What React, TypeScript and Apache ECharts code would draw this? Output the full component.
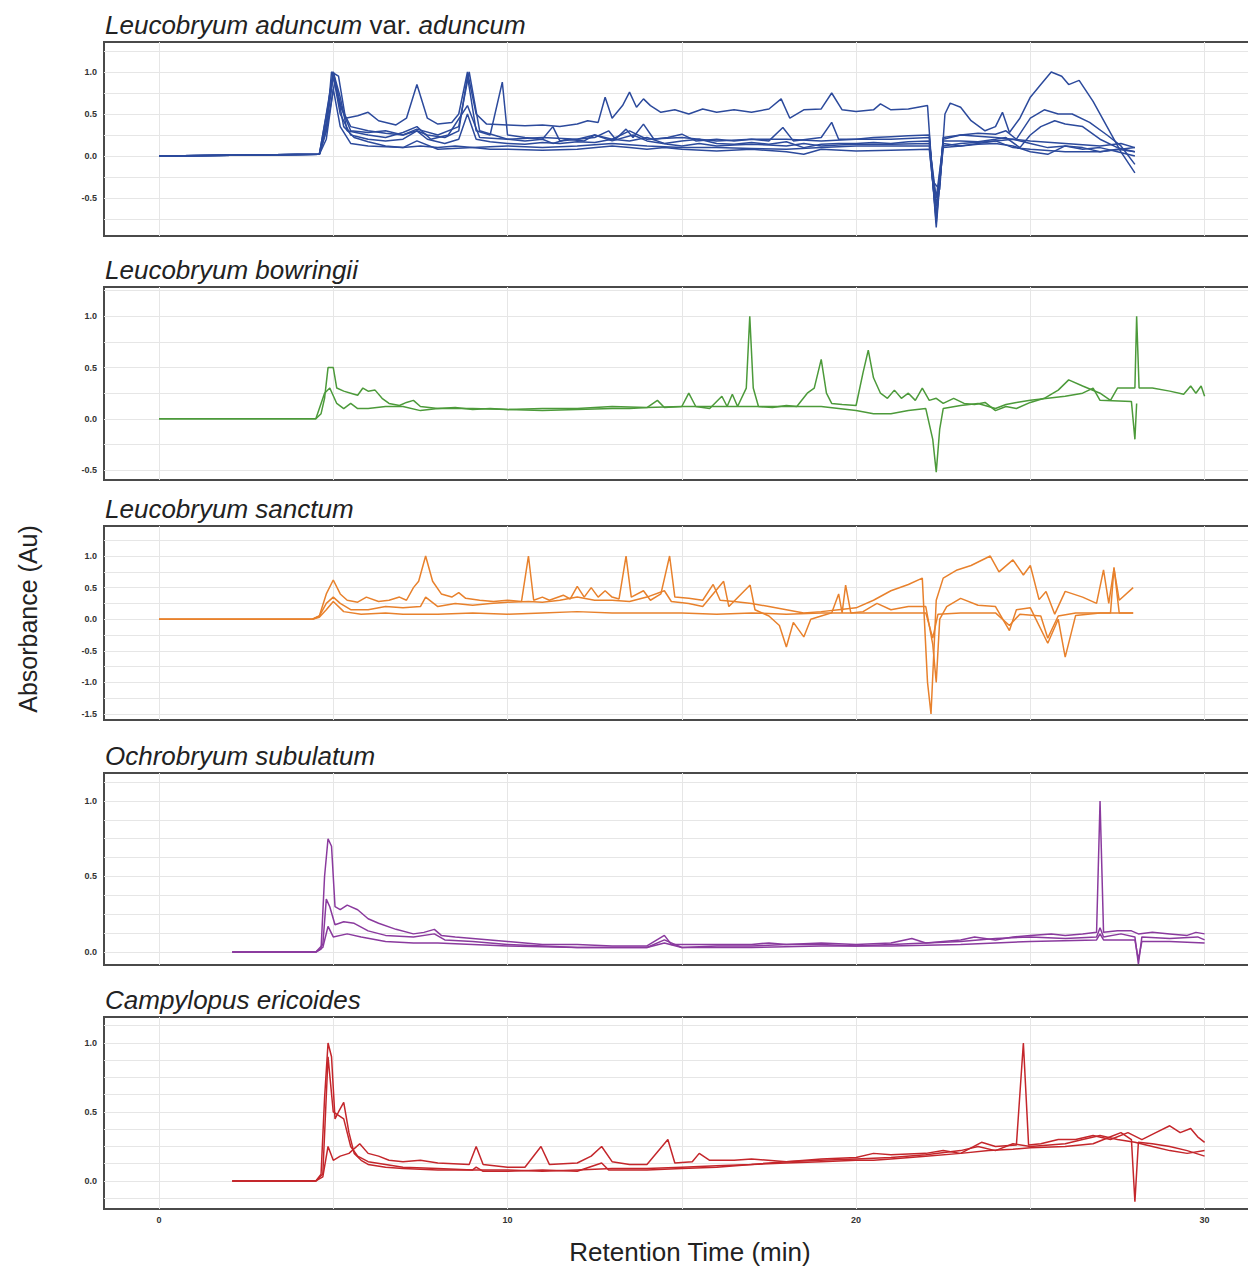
import React, { useEffect, useRef } from "react";
import * as echarts from "echarts";

// ---------- axis settings ----------
const X_MIN = -1.578;
const X_MAX = 32.45;
const X_GRID_TICKS = [0, 5, 10, 15, 20, 25, 30];
const X_LABEL_TICKS = [0, 10, 20, 30];

const PANEL_TITLES = [
  "{i|Leucobryum aduncum} var. {i|aduncum}",
  "{i|Leucobryum bowringii}",
  "{i|Leucobryum sanctum}",
  "{i|Ochrobryum subulatum}",
  "{i|Campylopus ericoides}",
];
const PANEL_COLORS = ["#2c4a9c", "#4c9a3a", "#e8812c", "#8a3a9e", "#c4262b"];
const Y_RANGES: [number, number][] = [
  [-0.952, 1.357],
  [-0.597, 1.286],
  [-1.595, 1.475],
  [-0.086, 1.185],
  [-0.203, 1.188],
];
const Y_LABEL_TICKS = [
  [-0.5, 0, 0.5, 1.0],
  [-0.5, 0, 0.5, 1.0],
  [-1.5, -1.0, -0.5, 0, 0.5, 1.0],
  [0, 0.5, 1.0],
  [0, 0.5, 1.0],
];
const Y_GRID_TICKS = [
  [-0.75, -0.5, -0.25, 0, 0.25, 0.5, 0.75, 1.0, 1.25],
  [-0.5, -0.25, 0, 0.25, 0.5, 0.75, 1.0, 1.25],
  [-1.5, -1.25, -1.0, -0.75, -0.5, -0.25, 0, 0.25, 0.5, 0.75, 1.0, 1.25],
  [0, 0.125, 0.25, 0.375, 0.5, 0.625, 0.75, 0.875, 1.0, 1.125],
  [-0.125, 0, 0.125, 0.25, 0.375, 0.5, 0.625, 0.75, 0.875, 1.0, 1.125],
];

// ---------- data: [retention time (min), absorbance] ----------
// Leucobryum aduncum var. aduncum
const aduncumA = [[0,0],[2,0.01],[4.6,0.02],[4.8,0.3],[4.95,1.0],[5.15,0.95],[5.35,0.45],[5.7,0.48],[6.0,0.52],[6.3,0.42],[6.8,0.37],[7.1,0.45],[7.4,0.85],[7.7,0.45],[8.0,0.38],[8.4,0.4],[8.6,0.5],[8.85,1.0],[9.1,0.5],[9.4,0.38],[10,0.37],[10.5,0.36],[11,0.37],[11.5,0.35],[12,0.38],[12.3,0.42],[12.6,0.4],[12.8,0.7],[13.0,0.45],[13.3,0.6],[13.5,0.76],[13.7,0.58],[13.9,0.68],[14.1,0.6],[14.4,0.52],[14.8,0.55],[15.2,0.5],[15.6,0.56],[16,0.52],[16.5,0.55],[17,0.52],[17.5,0.56],[17.85,0.68],[18.1,0.45],[18.5,0.55],[19,0.56],[19.3,0.75],[19.6,0.55],[20,0.53],[20.5,0.55],[20.7,0.62],[21,0.55],[21.5,0.56],[22.05,0.6],[22.2,-0.3],[22.4,-0.4],[22.55,0.5],[22.7,0.63],[23,0.58],[23.3,0.42],[23.7,0.3],[24.0,0.35],[24.2,0.52],[24.4,0.28],[24.7,0.45],[25,0.7],[25.3,0.85],[25.6,1.0],[25.9,0.95],[26.1,0.85],[26.4,0.9],[26.8,0.65],[27.2,0.35],[27.6,0.05],[28.0,-0.2]];
const aduncumB = [[0,0],[4.6,0.02],[4.8,0.5],[5.0,1.0],[5.2,0.6],[5.5,0.35],[6,0.3],[6.5,0.27],[7,0.25],[7.4,0.3],[7.7,0.25],[8.2,0.22],[8.6,0.3],[8.85,0.95],[9.1,0.3],[9.5,0.25],[9.85,0.88],[10.0,0.25],[10.5,0.22],[11,0.2],[11.3,0.35],[11.5,0.18],[12,0.2],[12.5,0.22],[12.9,0.3],[13.1,0.2],[13.4,0.32],[13.6,0.22],[13.9,0.38],[14.2,0.2],[14.6,0.22],[15,0.26],[15.4,0.18],[16,0.2],[16.5,0.18],[17,0.2],[17.5,0.18],[17.9,0.34],[18.2,0.18],[18.6,0.2],[19,0.22],[19.3,0.4],[19.5,0.2],[20,0.2],[20.5,0.22],[21,0.23],[21.5,0.24],[22.1,0.25],[22.3,-0.85],[22.5,0.2],[23,0.25],[23.5,0.27],[24,0.26],[24.3,0.3],[24.6,0.2],[25,0.45],[25.4,0.55],[25.8,0.5],[26.2,0.5],[26.7,0.4],[27.2,0.25],[27.6,0.12],[28,-0.1]];
const aduncumC = [[0,0],[4.6,0.02],[4.8,0.4],[5.0,0.95],[5.2,0.5],[5.5,0.25],[6,0.2],[6.5,0.18],[7,0.2],[7.4,0.3],[7.7,0.2],[8.2,0.15],[8.6,0.2],[8.85,0.5],[9.1,0.2],[9.5,0.17],[10,0.15],[10.5,0.14],[11,0.16],[11.5,0.15],[12,0.17],[12.5,0.16],[13,0.2],[13.5,0.18],[14,0.22],[14.5,0.15],[15,0.18],[15.5,0.2],[16,0.15],[16.5,0.14],[17,0.16],[17.5,0.14],[18,0.17],[18.5,0.1],[19,0.14],[19.5,0.15],[20,0.15],[20.5,0.16],[21,0.15],[21.5,0.17],[22.1,0.18],[22.3,-0.6],[22.5,0.18],[23,0.18],[23.5,0.17],[24,0.2],[24.3,0.22],[24.7,0.1],[25,0.25],[25.3,0.35],[25.7,0.42],[26,0.38],[26.5,0.35],[27,0.2],[27.5,0.1],[28,0.05]];
const aduncumD = [[0,0],[4.6,0.02],[4.8,0.3],[5.05,0.9],[5.3,0.35],[5.6,0.22],[6,0.17],[6.5,0.12],[7,0.1],[7.5,0.12],[8,0.1],[8.5,0.12],[9,0.1],[9.5,0.08],[10,0.08],[11,0.07],[12,0.08],[13,0.12],[13.5,0.1],[14,0.08],[14.5,0.1],[15,0.08],[16,0.06],[17,0.08],[18,0.05],[18.5,0.02],[19,0.08],[20,0.06],[21,0.07],[22.1,0.08],[22.3,-0.7],[22.5,0.1],[23,0.12],[23.5,0.14],[24,0.15],[24.5,0.12],[25,0.05],[25.5,0.02],[26,0.12],[26.5,0.08],[27,0.1],[27.5,0.05],[28,0.0]];
const aduncumE = [[0,0],[4.6,0.02],[4.85,0.6],[5.0,1.0],[5.2,0.7],[5.4,0.3],[6,0.25],[6.5,0.22],[7,0.28],[7.4,0.35],[7.8,0.2],[8.3,0.25],[8.85,0.6],[9.2,0.22],[10,0.2],[10.5,0.18],[11,0.2],[11.3,0.15],[11.7,0.2],[12.2,0.18],[12.5,0.25],[13,0.18],[13.6,0.25],[14,0.18],[14.6,0.14],[15,0.12],[15.5,0.15],[16,0.12],[16.5,0.13],[17,0.14],[17.5,0.13],[18,0.12],[18.5,0.15],[19,0.12],[19.5,0.13],[20,0.14],[21,0.14],[22.1,0.15],[22.3,-0.5],[22.5,0.15],[23,0.12],[23.5,0.15],[24,0.18],[24.5,0.2],[25,0.15],[25.5,0.1],[26,0.12],[26.5,0.1],[27,0.05],[27.5,0.08],[28,0.05]];
const aduncumF = [[0,0],[4.6,0.02],[4.8,0.2],[5.0,0.8],[5.2,0.35],[5.5,0.15],[6,0.12],[7,0.1],[7.4,0.18],[8,0.08],[9,0.1],[10,0.12],[11,0.1],[12,0.12],[13,0.15],[14,0.12],[15,0.1],[16,0.1],[17,0.09],[18,0.08],[19,0.1],[20,0.12],[21,0.12],[22.1,0.12],[22.3,-0.75],[22.5,0.12],[23,0.15],[24,0.18],[24.5,0.1],[25,0.08],[26,0.05],[27,0.05],[28,0.1]];
const aduncumG = [[0,0],[4.6,0.02],[4.8,0.35],[5.0,0.95],[5.25,0.55],[5.5,0.3],[6,0.28],[6.5,0.3],[7,0.25],[7.4,0.32],[8,0.25],[8.6,0.35],[8.9,1.0],[9.2,0.3],[9.6,0.25],[10,0.2],[11,0.22],[12,0.2],[12.5,0.25],[13,0.2],[13.5,0.3],[14,0.2],[15,0.22],[16,0.18],[17,0.2],[18,0.2],[19,0.18],[20,0.2],[21,0.2],[22.1,0.22],[22.3,-0.8],[22.5,0.22],[23,0.25],[24,0.22],[24.5,0.2],[25,0.18],[26,0.15],[27,0.12],[27.6,0.15],[28,0.1]];

// Leucobryum bowringii
const bowringiiA = [[0,0],[2,0.0],[4.5,0.0],[4.65,0.05],[4.75,0.2],[4.85,0.5],[5.0,0.5],[5.1,0.3],[5.3,0.27],[5.5,0.25],[5.7,0.23],[5.85,0.3],[6.0,0.27],[6.2,0.28],[6.4,0.2],[6.6,0.15],[6.9,0.13],[7.1,0.16],[7.3,0.18],[7.5,0.12],[8,0.1],[8.5,0.11],[9,0.09],[9.5,0.1],[10,0.09],[11,0.08],[12,0.09],[13,0.1],[13.5,0.1],[14,0.11],[14.3,0.18],[14.5,0.11],[15,0.12],[15.2,0.25],[15.4,0.12],[15.8,0.1],[16.15,0.22],[16.3,0.12],[16.45,0.24],[16.6,0.12],[16.85,0.3],[16.95,1.0],[17.05,0.3],[17.2,0.12],[17.6,0.11],[18,0.13],[18.3,0.12],[18.6,0.25],[18.8,0.3],[19.0,0.58],[19.15,0.25],[19.3,0.15],[19.6,0.14],[20.0,0.13],[20.2,0.45],[20.35,0.67],[20.5,0.4],[20.7,0.25],[20.9,0.2],[21.1,0.28],[21.3,0.2],[21.5,0.25],[21.7,0.18],[21.9,0.3],[22.1,0.18],[22.3,0.2],[22.5,0.15],[22.8,0.2],[23.1,0.15],[23.4,0.14],[23.7,0.16],[24.0,0.08],[24.3,0.12],[24.6,0.1],[25,0.16],[25.4,0.2],[25.8,0.28],[26.1,0.38],[26.5,0.32],[27.0,0.25],[27.3,0.18],[27.5,0.3],[27.8,0.3],[28.0,0.3],[28.05,1.0],[28.12,0.3],[28.5,0.3],[29,0.27],[29.4,0.24],[29.6,0.32],[29.75,0.25],[29.9,0.32],[30,0.22]];
const bowringiiB = [[0,0],[4.5,0],[4.65,0.15],[4.75,0.25],[4.9,0.3],[5.1,0.15],[5.3,0.1],[5.5,0.15],[5.7,0.1],[6.0,0.1],[6.5,0.12],[7,0.12],[7.5,0.08],[8,0.1],[9,0.1],[10,0.09],[11,0.1],[12,0.1],[13,0.12],[14,0.11],[15,0.12],[16,0.12],[17,0.12],[18,0.12],[19,0.12],[19.5,0.1],[20,0.08],[20.5,0.05],[21,0.05],[21.5,0.08],[22.0,0.1],[22.2,-0.2],[22.3,-0.52],[22.4,-0.1],[22.5,0.1],[23,0.13],[23.5,0.15],[24,0.1],[24.3,0.14],[24.6,0.16],[25,0.18],[25.5,0.2],[26,0.22],[26.5,0.25],[26.8,0.3],[27.0,0.18],[27.9,0.17],[28.0,-0.2],[28.05,0.15]];

// Leucobryum sanctum
const sanctumA = [[0,0],[4.4,0],[4.6,0.05],[4.8,0.4],[5.0,0.62],[5.2,0.4],[5.4,0.3],[5.7,0.27],[5.95,0.35],[6.3,0.28],[6.6,0.3],[6.9,0.35],[7.1,0.3],[7.3,0.5],[7.45,0.6],[7.65,1.0],[7.85,0.6],[8.1,0.4],[8.4,0.35],[8.6,0.42],[8.8,0.33],[9.2,0.3],[9.6,0.28],[10.0,0.3],[10.4,0.28],[10.6,1.0],[10.75,0.3],[11.0,0.35],[11.2,0.3],[11.6,0.38],[11.8,0.32],[12.0,0.52],[12.2,0.35],[12.4,0.5],[12.6,0.35],[12.8,0.45],[13.0,0.35],[13.2,0.32],[13.4,1.0],[13.55,0.35],[13.9,0.45],[14.1,0.3],[14.4,0.4],[14.65,1.0],[14.8,0.35],[15.2,0.33],[15.6,0.3],[15.9,0.55],[16.1,0.3],[16.5,0.28],[17.0,0.25],[17.5,0.2],[18.0,0.15],[18.5,0.1],[19.0,0.12],[19.5,0.15],[20.0,0.18],[20.5,0.3],[21.0,0.45],[21.5,0.55],[21.9,0.65],[22.05,-1.0],[22.15,-1.5],[22.3,0.3],[22.5,0.65],[22.9,0.78],[23.3,0.85],[23.85,1.0],[24.1,0.75],[24.5,0.94],[24.8,0.7],[25.0,0.85],[25.25,0.31],[25.45,0.44],[25.7,0.08],[26.0,0.44],[26.5,0.35],[26.9,0.25],[27.1,0.78],[27.25,0.25],[27.4,0.8],[27.55,0.3],[27.95,0.5]];
const sanctumB = [[0,0],[4.4,0],[4.6,0.05],[4.8,0.25],[5.0,0.35],[5.2,0.25],[5.5,0.15],[6,0.15],[6.5,0.2],[7,0.18],[7.5,0.2],[7.65,0.35],[8,0.2],[8.5,0.25],[9,0.22],[9.5,0.25],[10,0.27],[10.6,0.28],[11,0.27],[11.5,0.3],[12,0.35],[12.5,0.3],[13,0.3],[13.5,0.28],[14,0.35],[14.5,0.45],[14.7,0.28],[15.2,0.25],[15.6,0.2],[16.2,0.6],[16.35,0.2],[16.96,0.54],[17.1,0.15],[17.5,0.05],[17.8,-0.1],[18.0,-0.44],[18.2,-0.05],[18.5,-0.28],[18.7,0.0],[19.0,0.05],[19.3,0.1],[19.5,0.4],[19.6,0.1],[19.7,0.54],[19.85,0.1],[20.2,0.12],[20.6,0.25],[21,0.15],[21.5,0.2],[22.0,0.2],[22.2,-0.4],[22.3,-1.0],[22.4,0.0],[22.6,0.2],[23,0.33],[23.5,0.22],[24,0.2],[24.4,-0.18],[24.6,0.15],[25,0.18],[25.5,-0.38],[25.8,0.0],[26.0,-0.6],[26.3,0.06],[27,0.1],[27.3,0.1],[27.4,0.82],[27.55,0.1],[27.95,0.1]];
const sanctumC = [[0,0],[4.4,0],[4.6,0.03],[4.8,0.15],[5.0,0.28],[5.3,0.12],[5.8,0.08],[6.5,0.1],[7,0.08],[8,0.08],[9,0.1],[10,0.08],[11,0.1],[12,0.12],[13,0.1],[14,0.1],[15,0.1],[16,0.08],[17,0.1],[18,0.08],[19,0.1],[20,0.1],[21,0.1],[22,0.1],[22.2,-0.3],[22.35,0.08],[23,0.1],[24,0.1],[24.4,-0.1],[24.7,0.08],[25.3,0.05],[25.5,-0.3],[25.8,0.05],[26.3,0.1],[27.5,0.1],[27.95,0.1]];

// Ochrobryum subulatum
const subulatumA = [[2.1,0],[4.5,0],[4.65,0.02],[4.75,0.5],[4.85,0.75],[4.95,0.7],[5.05,0.3],[5.2,0.28],[5.4,0.31],[5.7,0.28],[6.0,0.22],[6.3,0.19],[6.8,0.15],[7.3,0.12],[7.6,0.13],[7.9,0.15],[8.1,0.11],[8.5,0.1],[9,0.09],[9.5,0.08],[10,0.07],[10.5,0.06],[11,0.05],[12,0.05],[13,0.04],[14,0.04],[14.5,0.11],[14.7,0.05],[15,0.05],[16,0.05],[17,0.05],[17.5,0.06],[18,0.05],[19,0.06],[20,0.05],[21,0.06],[21.6,0.09],[22,0.06],[23,0.08],[23.4,0.1],[24,0.08],[24.5,0.1],[25,0.11],[25.6,0.12],[26,0.11],[26.5,0.12],[26.9,0.13],[27.0,1.0],[27.1,0.13],[27.5,0.14],[27.9,0.14],[28.1,0.12],[28.5,0.13],[29,0.12],[29.5,0.11],[29.75,0.13],[30,0.12]];
const subulatumB = [[2.1,0],[4.5,0],[4.7,0.05],[4.8,0.35],[4.9,0.3],[5.05,0.18],[5.3,0.2],[5.6,0.19],[6,0.14],[6.5,0.11],[7.3,0.1],[7.9,0.12],[8.2,0.08],[9,0.07],[10,0.05],[11,0.04],[12,0.03],[13,0.03],[14,0.03],[14.5,0.08],[15,0.03],[16,0.04],[17,0.04],[18,0.05],[19,0.05],[20,0.04],[21,0.05],[22,0.06],[23,0.07],[24,0.09],[25,0.1],[26,0.09],[26.9,0.1],[27.0,0.16],[27.1,0.1],[27.6,0.12],[28.0,0.1],[28.1,-0.08],[28.2,0.1],[29,0.09],[29.8,0.1],[30,0.08]];
const subulatumC = [[2.1,0],[4.5,0],[4.7,0.03],[4.85,0.17],[5.0,0.1],[5.4,0.12],[5.8,0.1],[6.5,0.07],[7.3,0.06],[8,0.06],[9,0.05],[10,0.04],[12,0.03],[14,0.03],[14.5,0.06],[15,0.03],[17,0.03],[19,0.04],[21,0.04],[23,0.05],[25,0.07],[26.9,0.08],[27.0,0.12],[27.1,0.08],[28,0.08],[28.1,-0.05],[28.2,0.07],[29,0.07],[30,0.06]];

// Campylopus ericoides
const ericoidesA = [[2.1,0],[4.5,0],[4.65,0.05],[4.75,0.6],[4.85,1.0],[4.95,0.9],[5.05,0.45],[5.15,0.5],[5.3,0.57],[5.45,0.35],[5.6,0.2],[5.8,0.15],[6,0.12],[6.5,0.1],[7,0.09],[8,0.08],[9,0.08],[9.1,0.1],[9.3,0.07],[10,0.07],[11,0.08],[12,0.07],[12.7,0.13],[12.9,0.08],[14,0.08],[15,0.09],[16,0.1],[17,0.12],[18,0.13],[19,0.14],[20,0.15],[20.5,0.15],[21,0.16],[22,0.18],[23,0.2],[23.8,0.22],[24.5,0.23],[25,0.24],[26,0.25],[26.8,0.27],[27.3,0.32],[27.6,0.35],[27.9,0.3],[28.0,-0.15],[28.1,0.28],[28.5,0.27],[29,0.25],[29.5,0.22],[30,0.18]];
const ericoidesB = [[2.1,0],[4.5,0],[4.7,0.03],[4.85,0.25],[5.0,0.15],[5.2,0.18],[5.45,0.2],[5.76,0.27],[6,0.2],[6.3,0.18],[6.6,0.15],[7,0.14],[7.5,0.15],[8,0.13],[8.9,0.12],[9.1,0.25],[9.3,0.12],[10,0.1],[10.5,0.1],[10.96,0.25],[11.2,0.12],[12,0.13],[12.4,0.18],[12.7,0.25],[13,0.14],[13.5,0.12],[14,0.12],[14.6,0.3],[14.8,0.13],[15.3,0.14],[15.5,0.2],[15.8,0.15],[16.5,0.15],[17,0.16],[18,0.14],[19,0.16],[20,0.17],[20.5,0.2],[21,0.19],[22,0.2],[22.5,0.22],[23,0.2],[23.6,0.28],[24,0.25],[24.6,0.26],[24.8,1.0],[24.95,0.26],[25.3,0.27],[25.8,0.3],[26.3,0.3],[26.8,0.33],[27.3,0.3],[27.8,0.35],[28.2,0.3],[28.6,0.35],[29.0,0.4],[29.3,0.35],[29.6,0.38],[29.8,0.32],[30,0.28]];
const ericoidesC = [[2.1,0],[4.5,0],[4.7,0.05],[4.85,0.9],[5.0,0.5],[5.3,0.45],[5.5,0.25],[5.7,0.18],[6,0.14],[7,0.1],[8,0.09],[9,0.08],[10,0.08],[11,0.07],[12,0.08],[13,0.09],[14,0.09],[15,0.1],[16,0.11],[17,0.12],[18,0.14],[19,0.15],[20,0.16],[21,0.17],[22,0.19],[23,0.22],[23.5,0.25],[24,0.22],[24.5,0.27],[25,0.25],[26,0.27],[26.5,0.3],[27,0.33],[27.5,0.3],[28,0.28],[28.5,0.25],[29,0.22],[29.5,0.2],[30,0.22]];

const PANEL_TRACES = [
  [aduncumA, aduncumB, aduncumC, aduncumD, aduncumE, aduncumF, aduncumG],
  [bowringiiA, bowringiiB],
  [sanctumA, sanctumB, sanctumC],
  [subulatumA, subulatumB, subulatumC],
  [ericoidesA, ericoidesB, ericoidesC],
];

// ---------- layout ----------
const GRID_TOPS = [42, 287, 526, 773, 1017];
const GRID_HEIGHTS = [194, 193, 194, 192, 192];
const GRID_LEFT = 104;
const GRID_RIGHT = -42;
const FONT = "'Liberation Sans', Arial, sans-serif";

export default function App() {
  const ref = useRef<HTMLDivElement>(null);
  useEffect(() => {
    if (!ref.current) return;
    const chart = echarts.init(ref.current, undefined, { renderer: "svg" });
    const n = PANEL_TITLES.length;
    const grid = [];
    const xAxis = [];
    const yAxis = [];
    const series: any[] = [];
    const graphic: any[] = [];
    for (let i = 0; i < n; i++) {
      grid.push({
        left: GRID_LEFT,
        right: GRID_RIGHT,
        top: GRID_TOPS[i],
        height: GRID_HEIGHTS[i],
        outerBoundsMode: "none",
        containLabel: false,
        show: true,
        borderColor: "#4a4a4a",
        borderWidth: 2,
        backgroundColor: "transparent",
      });
      xAxis.push({
        type: "value",
        gridIndex: i,
        min: X_MIN,
        max: X_MAX,
        axisLine: { show: false },
        axisTick: { show: false, customValues: X_GRID_TICKS },
        splitLine: { show: true, lineStyle: { color: "#e6e6e6", width: 1 } },
        axisLabel: {
          show: i === n - 1,
          customValues: X_LABEL_TICKS,
          fontSize: 9,
          fontWeight: "bold",
          color: "#333",
          fontFamily: FONT,
          margin: 6,
        },
      });
      yAxis.push({
        type: "value",
        gridIndex: i,
        min: Y_RANGES[i][0],
        max: Y_RANGES[i][1],
        axisLine: { show: false },
        axisTick: { show: false, customValues: Y_GRID_TICKS[i] },
        splitLine: { show: true, lineStyle: { color: "#e6e6e6", width: 1 } },
        axisLabel: {
          customValues: Y_LABEL_TICKS[i],
          formatter: (v: number) => v.toFixed(1),
          fontSize: 9,
          fontWeight: "bold",
          color: "#333",
          fontFamily: FONT,
          margin: 7,
        },
      });
      PANEL_TRACES[i].forEach((tr) => {
        series.push({
          type: "line",
          xAxisIndex: i,
          yAxisIndex: i,
          data: tr,
          showSymbol: false,
          symbol: "none",
          silent: true,
          clip: true,
          lineStyle: { width: 1.5, color: PANEL_COLORS[i] },
          itemStyle: { color: PANEL_COLORS[i] },
        });
      });
      graphic.push({
        type: "text",
        left: 105,
        top: GRID_TOPS[i] - 30,
        style: {
          text: PANEL_TITLES[i],
          fontSize: 26,
          fontFamily: FONT,
          fill: "#222",
          rich: { i: { fontStyle: "italic", fontSize: 26, fontFamily: FONT, fill: "#222" } },
        },
      });
    }
    graphic.push({
      type: "text",
      x: 28,
      y: 619,
      rotation: Math.PI / 2,
      style: {
        text: "Absorbance (Au)",
        fontSize: 25,
        fontFamily: FONT,
        fill: "#222",
        align: "center",
        verticalAlign: "middle",
      },
    });
    graphic.push({
      type: "text",
      x: 690,
      y: 1252,
      style: {
        text: "Retention Time (min)",
        fontSize: 26,
        fontFamily: FONT,
        fill: "#222",
        align: "center",
        verticalAlign: "middle",
      },
    });
    chart.setOption({
      animation: false,
      backgroundColor: "#ffffff",
      grid,
      xAxis,
      yAxis,
      series,
      graphic,
    });
    return () => chart.dispose();
  }, []);
  return (
    <div
      ref={ref}
      style={{ position: "fixed", left: 0, top: 0, width: 1248, height: 1267 }}
    />
  );
}
